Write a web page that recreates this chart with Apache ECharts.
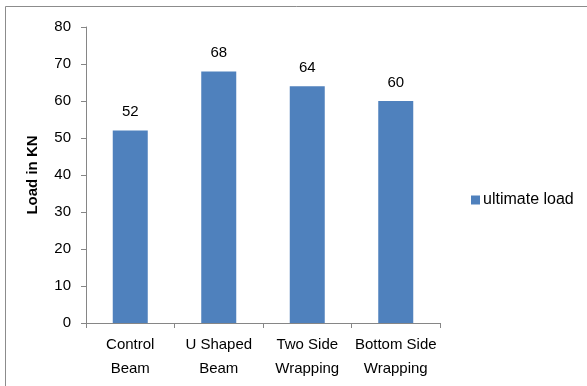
<!DOCTYPE html>
<html><head><meta charset="utf-8">
<script src="https://cdn.jsdelivr.net/npm/echarts@6/dist/echarts.min.js"></script>
<style>html,body{margin:0;padding:0;background:#fff}#c{width:587px;height:386px}</style>
</head><body><div id="c"></div>
<script>
const categories = ['Control\nBeam', 'U Shaped\nBeam', 'Two Side\nWrapping', 'Bottom Side\nWrapping'];
const ultimateLoad = [52, 68, 64, 60];
const seriesName = 'ultimate load';
const yTicks = [0, 80, 10];

const font = 'Liberation Sans, Arial, sans-serif';
const chart = echarts.init(document.getElementById('c'));
chart.setOption({
  animation: false,
  backgroundColor: '#fff',
  graphic: [{type:'rect', shape:{x:5.5,y:6.5,width:700,height:500}, style:{fill:'none', stroke:'#8c8c8c', lineWidth:1}, silent:true}],
  grid: {left: 86, right: 147, top: 27, bottom: 63},
  legend: {
    data: [seriesName], left: 466, top: 187, orient: 'vertical',
    itemWidth: 9, itemHeight: 9, itemGap: 4, icon: 'rect',
    textStyle: {fontFamily: font, fontSize: 16, color: '#000', padding:[0,0,0,-2]}
  },
  xAxis: {
    type: 'category', data: categories,
    axisLine: {lineStyle: {color: '#868686'}},
    axisTick: {show: true, length: 5, lineStyle: {color: '#868686'}},
    axisLabel: {fontFamily: font, fontSize: 15, color: '#000', lineHeight: 24, margin: 10, interval: 0}
  },
  yAxis: {
    type: 'value', min: yTicks[0], max: yTicks[1], interval: yTicks[2],
    name: 'Load in KN', nameLocation: 'middle', nameGap: 46, nameRotate: 90,
    nameTextStyle: {fontFamily: font, fontSize: 15, fontWeight: 'bold', color: '#000'},
    axisLine: {show: true, lineStyle: {color: '#868686'}},
    axisTick: {show: true, length: 5, lineStyle: {color: '#868686'}},
    splitLine: {show: false},
    axisLabel: {fontFamily: font, fontSize: 15, color: '#000', margin: 15}
  },
  series: [{
    name: seriesName, type: 'bar', data: ultimateLoad, barWidth: 35,
    itemStyle: {color: '#4F81BD'},
    label: {show: true, position: 'top', distance: 11, fontFamily: font, fontSize: 15, color: '#000'}
  }]
});
</script></body></html>
